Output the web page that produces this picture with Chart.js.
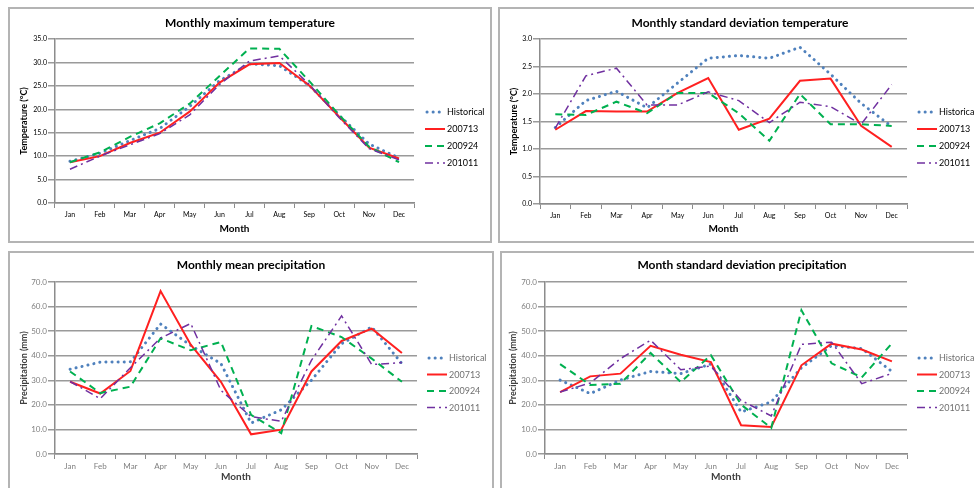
<!DOCTYPE html>
<html>
<head>
<meta charset="utf-8">
<script src="https://cdn.jsdelivr.net/npm/chart.js@4.4.0/dist/chart.umd.min.js"></script>
<style>
  html, body { margin: 0; padding: 0; background: #fff; width: 974px; height: 488px; overflow: hidden; }
  .panel { position: absolute; border: 2px solid #b4b4b4; background: #fff; }
  .panel canvas { display: block; }
</style>
</head>
<body>
<div class="panel" style="left:8px;top:7px;width:480px;height:232px"><canvas id="c1" width="480" height="232"></canvas></div>
<div class="panel" style="left:498px;top:7px;width:480px;height:232px"><canvas id="c2" width="480" height="232"></canvas></div>
<div class="panel" style="left:8px;top:251px;width:482px;height:240px"><canvas id="c3" width="482" height="240"></canvas></div>
<div class="panel" style="left:500px;top:251px;width:480px;height:240px"><canvas id="c4" width="480" height="240"></canvas></div>
<script>
"use strict";

const months = ["Jan", "Feb", "Mar", "Apr", "May", "Jun", "Jul", "Aug", "Sep", "Oct", "Nov", "Dec"];
const seriesNames = ["Historical", "200713", "200924", "201011"];

// Monthly maximum temperature (°C)
const maxTempHist = [8.9, 10.6, 13.3, 15.9, 20.6, 26.1, 29.7, 29.3, 25.1, 18.7, 12.6, 9.6];
const maxTemp0713 = [8.7, 10.0, 12.8, 15.0, 19.5, 25.7, 29.6, 29.9, 25.1, 18.4, 11.8, 9.5];
const maxTemp0924 = [8.7, 10.8, 14.1, 17.0, 21.2, 27.1, 33.0, 32.9, 26.0, 18.8, 12.0, 8.7];
const maxTemp1011 = [7.2, 10.0, 12.4, 14.8, 18.8, 25.3, 30.3, 31.4, 25.3, 18.2, 11.6, 9.2];

// Monthly standard deviation temperature (°C)
const sdTempHist = [1.39, 1.88, 2.05, 1.75, 2.20, 2.65, 2.70, 2.65, 2.85, 2.36, 1.83, 1.41];
const sdTemp0713 = [1.35, 1.69, 1.68, 1.68, 2.02, 2.29, 1.35, 1.55, 2.24, 2.28, 1.42, 1.04];
const sdTemp0924 = [1.63, 1.62, 1.86, 1.65, 2.02, 2.02, 1.65, 1.15, 2.00, 1.45, 1.45, 1.42];
const sdTemp1011 = [1.38, 2.33, 2.47, 1.80, 1.80, 2.04, 1.88, 1.48, 1.85, 1.77, 1.45, 2.17];

// Monthly mean precipitation (mm)
const meanPrecHist = [34.5, 37.4, 37.5, 52.9, 44.2, 36.8, 12.6, 18.0, 30.0, 44.9, 51.7, 36.8];
const meanPrec0713 = [29.4, 24.6, 33.8, 66.3, 44.5, 29.4, 8.0, 9.9, 33.6, 46.0, 51.0, 41.1];
const meanPrec0924 = [33.6, 24.8, 27.4, 47.1, 42.2, 45.6, 15.9, 8.5, 52.1, 47.6, 38.8, 29.4];
const meanPrec1011 = [29.5, 22.5, 35.1, 47.2, 53.1, 25.9, 15.2, 13.3, 38.1, 56.2, 36.4, 37.2];

// Month standard deviation precipitation (mm)
const sdPrecHist = [30.1, 24.6, 30.1, 33.6, 32.7, 36.6, 17.1, 21.2, 35.1, 44.1, 42.9, 33.6];
const sdPrec0713 = [25.2, 31.6, 32.7, 44.0, 40.4, 37.4, 11.7, 11.0, 36.1, 44.9, 42.5, 37.7];
const sdPrec0924 = [36.6, 28.1, 28.6, 41.1, 29.3, 40.2, 20.1, 10.6, 58.5, 36.9, 31.2, 45.0];
const sdPrec1011 = [25.2, 28.9, 38.8, 46.3, 34.3, 35.8, 21.8, 15.5, 44.6, 45.5, 28.6, 32.8];

const FONT = "Lato, 'Liberation Sans', sans-serif";
const lineStyles = [
  { color: "#4F81BD", width: 3, dash: [0.1, 6], cap: "round" },
  { color: "#FF2020", width: 2, dash: [], cap: "butt" },
  { color: "#00B050", width: 2, dash: [7, 5], cap: "butt" },
  { color: "#7030A0", width: 1.5, dash: [8, 4, 2, 4], cap: "butt" }
];

// draws the legend as short line samples with the series dash patterns
function lineLegend(cfg) {
  return {
    id: "lineLegend",
    afterDraw: function (chart) {
      const ctx = chart.ctx;
      chart.data.datasets.forEach(function (ds, i) {
        const y = cfg.y + i * cfg.gap;
        ctx.save();
        ctx.strokeStyle = ds.borderColor;
        ctx.lineWidth = ds.borderWidth;
        ctx.lineCap = ds.borderCapStyle;
        ctx.setLineDash(ds.borderDash);
        ctx.beginPath();
        ctx.moveTo(cfg.x + (ds.borderCapStyle === "round" ? 2 : 0), y);
        ctx.lineTo(cfg.x + cfg.len, y);
        ctx.stroke();
        ctx.setLineDash([]);
        ctx.fillStyle = cfg.color;
        ctx.font = "9px " + FONT;
        ctx.textBaseline = "middle";
        ctx.fillText(ds.label, cfg.x + cfg.len + 2, y + 0.5);
        ctx.restore();
      });
    }
  };
}

function buildChart(id, cfg) {
  const datasets = cfg.series.map(function (values, i) {
    const st = lineStyles[i];
    return {
      label: seriesNames[i],
      data: values,
      borderColor: st.color,
      backgroundColor: st.color,
      borderWidth: st.width,
      borderDash: st.dash,
      borderCapStyle: st.cap,
      pointRadius: 0,
      tension: 0,
      fill: false,
      order: 4 - i
    };
  });

  return new Chart(document.getElementById(id), {
    type: "line",
    data: { labels: months, datasets: datasets },
    plugins: [lineLegend(cfg.legend)],
    options: {
      responsive: false,
      animation: false,
      layout: { padding: 0 },
      plugins: {
        legend: { display: false },
        tooltip: { enabled: false },
        title: {
          display: true,
          text: cfg.title,
          color: "#000",
          font: { family: FONT, size: 12, weight: "bold" },
          padding: { top: cfg.titleTop, bottom: cfg.titleBottom }
        }
      },
      scales: {
        x: {
          offset: true,
          afterFit: function (s) { s.height = cfg.xHeight; },
          grid: { offset: true, drawOnChartArea: false, drawTicks: true, tickLength: 5, color: "#8c8c8c" },
          border: { color: "#8c8c8c", width: 1.5 },
          ticks: { color: cfg.tickColor, font: { family: FONT, size: cfg.tickSize }, padding: 3, maxRotation: 0, autoSkip: false },
          title: {
            display: true,
            text: "Month",
            color: cfg.axisTitleColor,
            font: { family: FONT, size: 10, weight: "bold" },
            padding: { top: 0, bottom: cfg.xTitlePad }
          }
        },
        y: {
          min: 0,
          max: cfg.yMax,
          afterFit: function (s) { s.width = cfg.yWidth; },
          grid: { color: "#9a9a9a", lineWidth: 1.5, tickLength: 7, drawTicks: true },
          border: { color: "#8c8c8c", width: 1.5 },
          ticks: {
            stepSize: cfg.yStep,
            color: cfg.tickColor,
            font: { family: FONT, size: cfg.tickSize },
            padding: 1,
            callback: function (v) { return v.toFixed(1); }
          },
          title: {
            display: true,
            text: cfg.yTitle,
            color: cfg.axisTitleColor,
            font: { family: FONT, size: 9, weight: "bold" },
            padding: { top: cfg.yTitlePad, bottom: 0 }
          }
        },
        // empty right-hand box that keeps room for the legend, so the title stays centred on the panel
        legendSpace: {
          type: "linear",
          position: "right",
          afterFit: function (s) { s.width = cfg.padRight; },
          grid: { display: false },
          border: { display: false },
          ticks: { display: false }
        }
      }
    }
  });
}

buildChart("c1", {
  title: "Monthly maximum temperature",
  yTitle: "Temperature (\u00B0C)",
  yMax: 35, yStep: 5,
  series: [maxTempHist, maxTemp0713, maxTemp0924, maxTemp1011],
  padRight: 76, yWidth: 45, xHeight: 38, xTitlePad: 6, yTitlePad: 9,
  titleTop: 6.5, titleBottom: 9.1,
  tickColor: "#000", tickSize: 7, axisTitleColor: "#000",
  legend: { x: 415, y: 103, gap: 17, len: 20, color: "#000" }
});

buildChart("c2", {
  title: "Monthly standard deviation temperature",
  yTitle: "Temperature (\u00B0C)",
  yMax: 3, yStep: 0.5,
  series: [sdTempHist, sdTemp0713, sdTemp0924, sdTemp1011],
  padRight: 73, yWidth: 40, xHeight: 37, xTitlePad: 6, yTitlePad: 9,
  titleTop: 6.5, titleBottom: 9.1,
  tickColor: "#000", tickSize: 7, axisTitleColor: "#000",
  legend: { x: 417, y: 103, gap: 17, len: 20, color: "#000" }
});

buildChart("c3", {
  title: "Monthly mean precipitation",
  yTitle: "Precipitation (mm)",
  yMax: 70, yStep: 10,
  series: [meanPrecHist, meanPrec0713, meanPrec0924, meanPrec1011],
  padRight: 75, yWidth: 45, xHeight: 39, xTitlePad: 10, yTitlePad: 9,
  titleTop: 4.5, titleBottom: 10.1,
  tickColor: "#808080", tickSize: 8, axisTitleColor: "#404040",
  legend: { x: 417, y: 105, gap: 16.5, len: 20, color: "#707070" }
});

buildChart("c4", {
  title: "Month standard deviation precipitation",
  yTitle: "Precipitation (mm)",
  yMax: 70, yStep: 10,
  series: [sdPrecHist, sdPrec0713, sdPrec0924, sdPrec1011],
  padRight: 75, yWidth: 43, xHeight: 39, xTitlePad: 10, yTitlePad: 6,
  titleTop: 4.5, titleBottom: 10.1,
  tickColor: "#808080", tickSize: 8, axisTitleColor: "#404040",
  legend: { x: 415, y: 105, gap: 16.5, len: 20, color: "#707070" }
});
</script>
</body>
</html>
